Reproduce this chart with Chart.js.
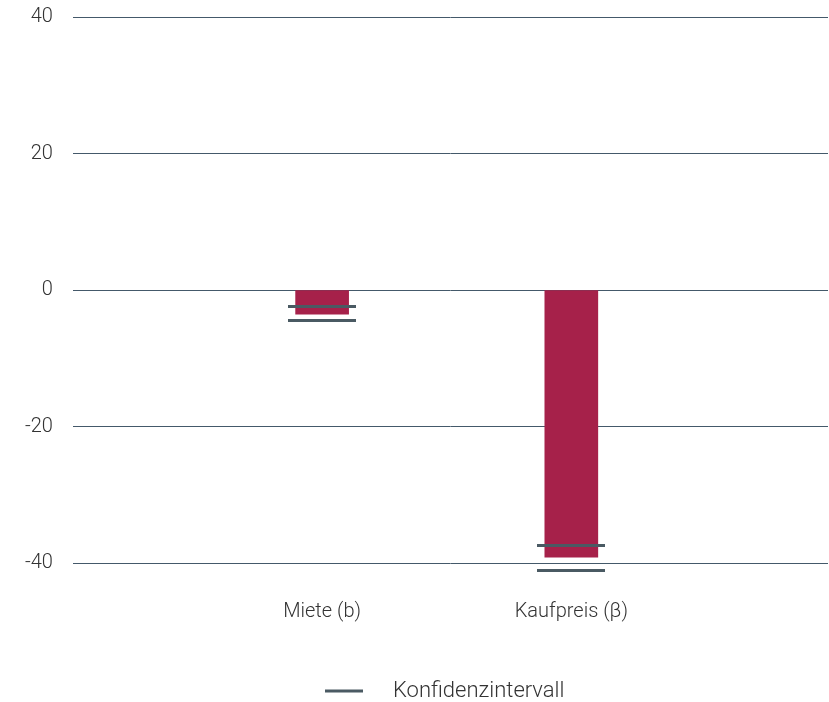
<!DOCTYPE html>
<html lang="de">
<head>
  <meta charset="UTF-8">
  <title>Miete und Kaufpreis</title>
  <script src="https://cdn.jsdelivr.net/npm/chart.js"></script>
  <style>
    body {
      margin: 0;
      padding: 0;
      background: #ffffff;
    }

    .wrap {
      width: 829px;
      height: 702px;
    }
  </style>
</head>
<body>

  <div class="wrap">
    <canvas id="ciChart"></canvas>
  </div>

  <script>
    // Werte
    const categories = ['Miete (b)', 'Kaufpreis (β)'];
    const estimates = [-3.5, -39.1];
    const ciUpper = [-2.45, -37.35];
    const ciLower = [-4.5, -41.0];
    const yTicks = [-40, -20, 0, 20, 40];
    const legendLabel = 'Konfidenzintervall';

    const barColor = '#a6214a';
    const ciColor = '#4a5a63';
    const gridColor = '#44596a';
    const textColor = '#333333';
    const font = { family: 'Roboto', weight: 300, size: 20 };

    const barData = categories.map((c, i) => ({ x: i + 1, y: estimates[i] }));
    const ciData = [];
    categories.forEach((c, i) => {
      ciData.push({ x: i + 1, y: ciUpper[i] });
      ciData.push({ x: i + 1, y: ciLower[i] });
    });

    // kleiner Strich als Punktsymbol fuer die Intervallgrenzen
    const ciMark = document.createElement('canvas');
    ciMark.width = 68;
    ciMark.height = 3;
    const mctx = ciMark.getContext('2d');
    mctx.fillStyle = ciColor;
    mctx.fillRect(0, 0, 68, 3);

    // eigene Legende unter dem Diagramm
    const bottomLegend = {
      id: 'bottomLegend',
      afterDraw(chart) {
        const ctx = chart.ctx;
        const y = 691;
        ctx.save();
        ctx.strokeStyle = ciColor;
        ctx.lineWidth = 3;
        ctx.beginPath();
        ctx.moveTo(325, y);
        ctx.lineTo(363, y);
        ctx.stroke();
        ctx.fillStyle = textColor;
        ctx.font = '300 22px Roboto';
        ctx.textBaseline = 'middle';
        ctx.textAlign = 'left';
        ctx.fillText(legendLabel, 393, y);
        ctx.restore();
      }
    };

    new Chart(document.getElementById('ciChart'), {
      type: 'bar',
      data: {
        datasets: [
          {
            type: 'scatter',
            label: legendLabel,
            data: ciData,
            pointStyle: ciMark,
            pointRadius: 1,
            pointHoverRadius: 1,
            pointBorderWidth: 0,
            showLine: false,
            order: 0
          },
          {
            label: 'Schätzung',
            data: barData,
            backgroundColor: barColor,
            barThickness: 53,
            order: 1
          }
        ]
      },
      options: {
        responsive: true,
        maintainAspectRatio: false,
        animation: false,
        layout: {
          padding: { left: 5, right: 0, top: 17, bottom: 65 }
        },
        plugins: {
          legend: { display: false },
          tooltip: { enabled: false }
        },
        scales: {
          x: {
            type: 'linear',
            min: 0,
            max: 3.03,
            offset: false,
            grid: { display: false, offset: false },
            border: { display: false },
            afterBuildTicks: (scale) => {
              scale.ticks = categories.map((c, i) => ({ value: i + 1 }));
            },
            afterFit: (scale) => {
              scale.height = 60;
              scale.paddingLeft = 0;
              scale.paddingRight = 0;
            },
            ticks: {
              padding: 15,
              color: textColor,
              font: font,
              autoSkip: false,
              maxRotation: 0,
              callback: (value) => categories[value - 1]
            }
          },
          y: {
            min: -42,
            max: 40,
            afterBuildTicks: (scale) => {
              scale.ticks = yTicks.map(v => ({ value: v }));
            },
            afterFit: (scale) => {
              scale.paddingTop = 0;
              scale.paddingBottom = 0;
            },
            grid: {
              color: gridColor,
              lineWidth: 1,
              drawTicks: false
            },
            border: { display: false },
            ticks: {
              padding: 20,
              color: textColor,
              font: font
            }
          }
        }
      },
      plugins: [bottomLegend]
    });
  </script>

</body>
</html>
